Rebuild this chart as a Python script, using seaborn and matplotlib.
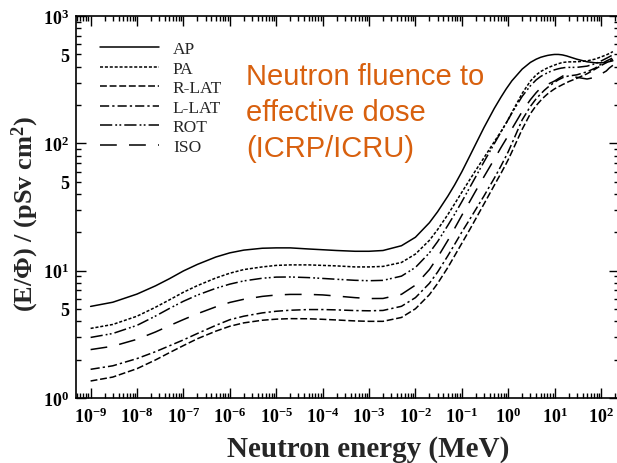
import numpy as np
import pandas as pd
import seaborn as sns
import matplotlib
matplotlib.use("Agg")
import matplotlib.pyplot as plt
from matplotlib.ticker import LogLocator, FuncFormatter, NullFormatter

# fluence-to-effective-dose coefficients, pSv cm^2
energy_mev = [1e-9, 3e-9, 1e-8, 2.5e-8, 5e-8, 1e-7, 2e-7, 5e-7, 1e-6, 2e-6, 5e-6, 1e-5,
              2e-5, 5e-5, 1e-4, 2e-4, 5e-4, 1e-3, 2e-3, 5e-3, 1e-2, 2e-2,
              3e-2, 5e-2, 7e-2, 0.1, 0.15, 0.2, 0.3, 0.5, 0.7, 0.9,
              1.0, 1.2, 2.0, 3.0, 4.0, 5.0, 6.0, 7.0, 8.0, 9.0,
              10.0, 12.0, 14.0, 15.0, 16.0, 18.0, 20.0, 30.0, 50.0, 75.0,
              100.0, 130.0, 150.0, 180.0]
ap = [5.24, 5.65, 6.55, 7.60, 8.65, 9.95, 11.2, 12.8, 13.8, 14.5, 15.0, 15.1,
      15.1, 14.8, 14.6, 14.4, 14.2, 14.2, 14.4, 15.7, 18.3, 23.8,
      29.0, 38.5, 47.2, 59.8, 80.2, 99.0, 133, 188, 231, 267,
      282, 310, 383, 432, 458, 474, 483, 490, 494, 497,
      499, 499, 496, 494, 491, 486, 480, 458, 437, 429,
      429, 432, 438, 445]
pa = [3.52, 3.78, 4.39, 5.16, 5.90, 6.77, 7.63, 8.76, 9.55, 10.2, 10.7, 11.0,
      11.1, 11.1, 11.0, 10.9, 10.7, 10.7, 10.8, 11.6, 13.5, 17.3,
      21.0, 27.6, 33.5, 41.3, 52.2, 61.5, 77.1, 103, 124, 144,
      154, 175, 247, 308, 345, 366, 380, 391, 399, 406,
      412, 422, 429, 431, 433, 435, 436, 437, 444, 459,
      477, 495, 507, 525]
rlat = [1.36, 1.46, 1.70, 1.99, 2.27, 2.58, 2.92, 3.35, 3.66, 3.89, 4.08, 4.16,
        4.20, 4.19, 4.15, 4.10, 4.03, 4.00, 4.00, 4.29, 5.02, 6.48,
        7.93, 10.6, 13.1, 16.4, 21.2, 25.6, 33.4, 46.8, 58.3, 69.1,
        74.5, 85.8, 129, 171, 198, 217, 232, 244, 253, 261,
        268, 278, 286, 290, 293, 299, 305, 324, 352, 383,
        408, 430, 441, 457]
llat = [1.68, 1.79, 2.04, 2.31, 2.57, 2.86, 3.21, 3.72, 4.12, 4.39, 4.66, 4.80,
        4.89, 4.95, 4.95, 4.92, 4.86, 4.84, 4.87, 5.25, 6.14, 7.95,
        9.74, 13.1, 16.1, 20.1, 25.5, 30.3, 38.6, 53.2, 66.6, 79.6,
        86.0, 99.8, 153, 195, 224, 244, 261, 274, 285, 294,
        302, 315, 324, 328, 331, 335, 338, 345, 365, 390,
        418, 443, 454, 470]
rot = [2.99, 3.21, 3.72, 4.40, 5.05, 5.75, 6.43, 7.27, 7.84, 8.31, 8.72, 8.90,
       8.92, 8.82, 8.69, 8.56, 8.40, 8.34, 8.39, 9.06, 10.6, 13.8,
       16.9, 22.7, 27.8, 34.8, 45.4, 54.8, 71.6, 99.4, 123, 144,
       154, 173, 234, 283, 315, 335, 348, 358, 366, 373,
       378, 385, 390, 391, 393, 394, 395, 395, 404, 422,
       443, 465, 478, 495]
iso = [2.40, 2.55, 2.89, 3.30, 3.70, 4.13, 4.59, 5.20, 5.63, 5.96, 6.28, 6.44,
       6.51, 6.51, 6.45, 6.32, 6.14, 6.04, 6.05, 6.52, 7.70, 10.2,
       12.7, 17.3, 21.5, 27.2, 35.2, 42.4, 54.7, 75.0, 92.8, 108,
       116, 130, 178, 220, 250, 272, 282, 290, 297, 303,
       309, 322, 333, 338, 342, 345, 343, 330, 320, 330,
       350, 370, 390, 410]

geometries = ["AP", "PA", "R-LAT", "L-LAT", "ROT", "ISO"]
series = [ap, pa, rlat, llat, rot, iso]
line_styles = {
    "AP": "-",
    "PA": (0, (2.0, 1.2)),
    "R-LAT": (0, (4.5, 1.8)),
    "L-LAT": (0, (6, 2, 1.5, 2)),
    "ROT": (0, (8, 2, 1.2, 1.5, 1.2, 2)),
    "ISO": (0, (11, 8)),
}

sns.set_theme(style="ticks")
plt.rcParams["font.family"] = ["Liberation Serif", "DejaVu Serif"]
plt.rcParams["font.weight"] = "bold"
plt.rcParams["mathtext.fontset"] = "custom"
plt.rcParams["mathtext.rm"] = "Liberation Serif:bold"
plt.rcParams["mathtext.bf"] = "Liberation Serif:bold"
plt.rcParams["mathtext.it"] = "Liberation Serif:bold:italic"

fig = plt.figure(figsize=(6.17, 4.64), dpi=100)
ax = fig.add_axes([76 / 617, 65 / 464, 543 / 617, 382 / 464])

for name, vals in zip(geometries, series):
    df = pd.DataFrame({"energy": energy_mev, "dose": vals})
    sns.lineplot(data=df, x="energy", y="dose", ax=ax, color="black",
                 linewidth=1.1, linestyle=line_styles[name], label=name)

ax.set_xscale("log")
ax.set_yscale("log")
ax.set_xlim(10 ** -9.315, 10 ** 2.387)
ax.set_ylim(1, 1000)

ax.xaxis.set_major_locator(LogLocator(base=10, numticks=20))
ax.xaxis.set_minor_locator(LogLocator(base=10, subs=np.arange(2, 10), numticks=200))
ax.xaxis.set_major_formatter(FuncFormatter(lambda v, p: r"$10^{%d}$" % round(np.log10(v))))
ax.xaxis.set_minor_formatter(NullFormatter())
ax.yaxis.set_major_locator(LogLocator(base=10, numticks=10))
ax.yaxis.set_minor_locator(LogLocator(base=10, subs=np.arange(2, 10), numticks=100))
ax.yaxis.set_major_formatter(FuncFormatter(lambda v, p: r"$10^{%d}$" % round(np.log10(v))))


def minor_fmt(v, p):
    m = v / 10 ** np.floor(np.log10(v) + 1e-9)
    return "5" if abs(m - 5) < 0.01 else ""


ax.yaxis.set_minor_formatter(FuncFormatter(minor_fmt))

ax.tick_params(which="both", direction="in", top=True, right=True,
               labelsize=13, colors="black", width=1.0)
ax.tick_params(which="major", length=7)
ax.tick_params(which="minor", length=3.5)
ax.tick_params(axis="x", which="both", pad=6)
ax.tick_params(axis="y", which="both", pad=5)
for s in ax.spines.values():
    s.set_color("black")
    s.set_linewidth(1.2)

ax.set_xlabel("Neutron energy (MeV)", fontsize=21, fontweight="bold")
ax.set_ylabel(r"(E/Φ) / (pSv cm$^{2}$)", fontsize=19, fontweight="bold")
ax.xaxis.set_label_coords((368 - 76) / 543, (399 - 436) / 382)
ax.yaxis.set_label_coords((41 - 76) / 543, 0.484)

leg = ax.legend(loc="upper left", bbox_to_anchor=(24 / 543, 0.935), frameon=False,
                handlelength=3.4, handletextpad=0.8, labelspacing=0.2,
                borderpad=0, borderaxespad=0,
                prop={"family": "Liberation Serif", "weight": "normal", "size": 12.5})

fig.text(246 / 617, 1 - 63 / 464, "Neutron fluence to\neffective dose\n(ICRP/ICRU)",
         family="Liberation Sans", fontweight="normal", fontsize=21, linespacing=1.36,
         color="#D8600E", ha="left", va="top")

fig.savefig("out.png", dpi=100)
